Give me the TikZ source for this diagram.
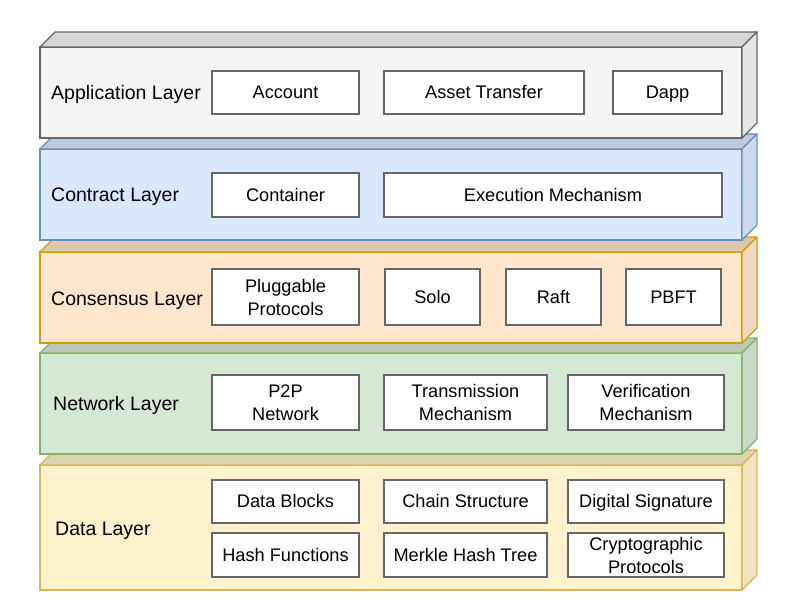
\documentclass[tikz,border=0pt]{standalone}
\usepackage{fontspec}
\setmainfont{Liberation Sans}
\usetikzlibrary{positioning}

\definecolor{appF}{HTML}{F5F5F5}
\definecolor{appL}{HTML}{666666}
\definecolor{conF}{HTML}{DAE8FC}
\definecolor{conL}{HTML}{6C8EBF}
\definecolor{consF}{HTML}{FFE6CC}
\definecolor{consL}{HTML}{D79B00}
\definecolor{netF}{HTML}{D5E8D4}
\definecolor{netL}{HTML}{82B366}
\definecolor{dataF}{HTML}{FFF2CC}
\definecolor{dataL}{HTML}{D6B656}

\begin{document}
\begin{tikzpicture}[x=1pt, y=-1pt]
\tikzstyle{layer}=[rectangle, minimum width=702pt, outer sep=0pt, line width=1.2pt]
\tikzstyle{face}=[line width=1.2pt, line join=round]
\tikzstyle{lbl}=[anchor=base west, inner sep=0pt, font=\fontsize{19.5}{23}\selectfont]
\tikzstyle{box}=[rectangle, draw=appL, fill=white, line width=1.2pt, outer sep=0pt, inner sep=0pt, align=center, minimum height=43pt, font=\fontsize{18.2}{23}\selectfont]
\tikzstyle{single}=[text height=15pt, text depth=3pt]
    \useasboundingbox (0,0) rectangle (785,607);
    % layers, lowest first so that the upper ones cover the top faces
    \foreach \n/\y/\h/\f/\l in {data/527.5/125/dataF/dataL, net/403.5/101/netF/netL,
                               cons/297.5/91/consF/consL, con/194.5/91/conF/conL,
                               app/92.5/91/appF/appL} {
        \node[layer, fill=\f, draw=\l, minimum height=\h pt] (\n) at (391,\y) {};
        \filldraw[face, fill=\f!87!black, draw=\l] (\n.north west) -- ++(15,-15) -- ++(702,0) -- (\n.north east) -- cycle;
        \filldraw[face, fill=\f!94!black, draw=\l] (\n.north east) -- ++(15,-15) -- ++(0,\h) -- (\n.south east) -- cycle;
    }
    \node[lbl] (appT)  at (51,100)  {Application Layer};
    \node[lbl] (conT)  at (51,201.5) {Contract Layer};
    \node[lbl] (consT) at (51,305.5) {Consensus Layer};
    \node[lbl] (netT)  at (53,410.5) {Network Layer};
    \node[lbl] (dataT) at (55,535.5) {Data Layer};
    % application layer
    \node[box, single, minimum width=147pt] (acc) at (285.5,92.5) {Account};
    \node[box, single, minimum width=200pt] (ast) [right=25pt of acc] {Asset Transfer};
    \node[box, single, minimum width=109pt] (dapp) [right=29pt of ast] {Dapp};
    % contract layer
    \node[box, single, minimum width=147pt, minimum height=44pt] (cont) at (285.5,195) {Container};
    \node[box, single, minimum width=338pt, minimum height=44pt] (exe) [right=25pt of cont] {Execution Mechanism};
    % consensus layer
    \node[box, minimum width=147pt, minimum height=56pt] (plug) at (285.5,297) {Pluggable\\Protocols};
    \node[box, single, minimum width=95pt, minimum height=56pt] (solo) [right=26pt of plug] {Solo};
    \node[box, single, minimum width=95pt, minimum height=56pt] (raft) [right=26pt of solo] {Raft};
    \node[box, single, minimum width=95pt, minimum height=56pt] (pbft) [right=25pt of raft] {PBFT};
    % network layer
    \node[box, minimum width=147pt, minimum height=55pt] (p2p) at (285.5,402.5) {P2P\\Network};
    \node[box, minimum width=163pt, minimum height=55pt] (trans) [right=25pt of p2p] {Transmission\\Mechanism};
    \node[box, minimum width=156pt, minimum height=55pt] (ver) [right=21pt of trans] {Verification\\Mechanism};
    % data layer
    \node[box, single, minimum width=147pt] (blk) at (285.5,501.5) {Data Blocks};
    \node[box, single, minimum width=163pt] (chain) [right=25pt of blk] {Chain Structure};
    \node[box, single, minimum width=156pt] (sig) [right=21pt of chain] {Digital Signature};
    \node[box, single, minimum width=147pt, minimum height=44pt] (hash) at (285.5,555) {Hash Functions};
    \node[box, single, minimum width=163pt, minimum height=44pt] (merk) [right=25pt of hash] {Merkle Hash Tree};
    \node[box, minimum width=156pt, minimum height=44pt] (cryp) [right=21pt of merk] {Cryptographic\\Protocols};
\end{tikzpicture}
\end{document}
